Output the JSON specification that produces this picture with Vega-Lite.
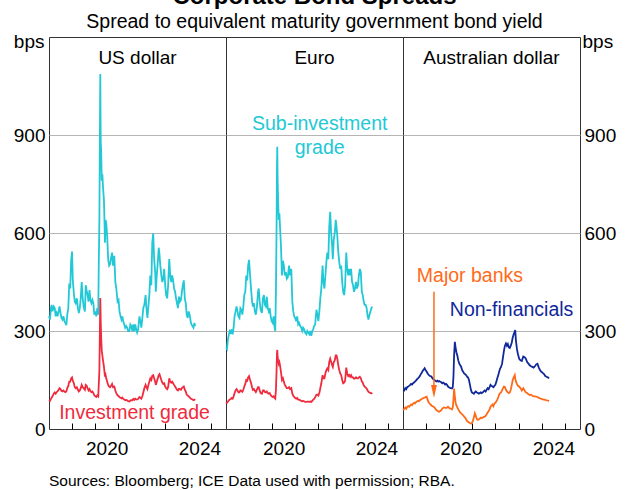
{
"$schema": "https://vega.github.io/schema/vega-lite/v6.json",
"autosize": {"type": "none"},
"padding": {"left": 49, "top": 37, "right": 579, "bottom": 453},
"bounds": "flush",
"spacing": 0,
"title": {"text": "Corporate Bond Spreads", "subtitle": "Spread to equivalent maturity government bond yield", "anchor": "middle", "frame": "group", "dx": 265.5, "fontSize": 24, "fontWeight": "bold", "subtitleFontSize": 19.5, "font": "Liberation Sans", "subtitleFont": "Liberation Sans", "color": "#000", "subtitleColor": "#000", "offset": 0, "subtitlePadding": 4},
"config": {
  "font": "Liberation Sans",
  "view": {"stroke": "#333", "strokeWidth": 1},
  "axis": {"labelFont": "Liberation Sans", "labelFontSize": 19, "labelColor": "#000", "titleColor": "#000", "titleFont": "Liberation Sans", "gridColor": "#b5b5b5", "gridWidth": 1},
  "axisX": {"tickCount": {"interval": "year", "step": 1}, "labelExpr": "(year(datum.value) === 2020 || year(datum.value) === 2024) ? timeFormat(datum.value, '%Y') : ''", "labelOffset": 11.6, "offset": -6, "tickSize": 6, "tickColor": "#000", "tickWidth": 1, "domain": false, "labelPadding": 10, "grid": false, "labelFlush": false, "labelOverlap": false},
  "text": {"font": "Liberation Sans"}
},
"datasets": {
"us": [
{"date":"2018-01-05","sub":345,"ig":88},{"date":"2018-01-20","sub":335,"ig":86},{"date":"2018-02-05","sub":370,"ig":92},{"date":"2018-02-15","sub":380,"ig":96},{"date":"2018-03-01","sub":360,"ig":100},{"date":"2018-03-20","sub":375,"ig":108},{"date":"2018-04-05","sub":370,"ig":112},{"date":"2018-04-20","sub":345,"ig":108},{"date":"2018-05-05","sub":355,"ig":113},{"date":"2018-05-20","sub":345,"ig":115},{"date":"2018-06-05","sub":360,"ig":120},{"date":"2018-06-20","sub":375,"ig":125},{"date":"2018-07-05","sub":355,"ig":122},{"date":"2018-07-20","sub":340,"ig":117},{"date":"2018-08-05","sub":335,"ig":115},{"date":"2018-08-20","sub":345,"ig":118},{"date":"2018-09-05","sub":330,"ig":115},{"date":"2018-09-20","sub":325,"ig":113},{"date":"2018-10-05","sub":318,"ig":115},{"date":"2018-10-20","sub":350,"ig":125},{"date":"2018-11-05","sub":370,"ig":132},{"date":"2018-11-20","sub":445,"ig":145},{"date":"2018-12-05","sub":430,"ig":145},{"date":"2018-12-20","sub":515,"ig":155},{"date":"2019-01-03","sub":543,"ig":158},{"date":"2019-01-15","sub":455,"ig":148},{"date":"2019-02-01","sub":415,"ig":140},{"date":"2019-02-15","sub":390,"ig":128},{"date":"2019-03-01","sub":385,"ig":125},{"date":"2019-03-20","sub":400,"ig":128},{"date":"2019-04-05","sub":370,"ig":120},{"date":"2019-04-20","sub":355,"ig":115},{"date":"2019-05-05","sub":370,"ig":118},{"date":"2019-05-20","sub":400,"ig":125},{"date":"2019-06-04","sub":450,"ig":135},{"date":"2019-06-20","sub":400,"ig":128},{"date":"2019-07-05","sub":375,"ig":125},{"date":"2019-07-25","sub":360,"ig":120},{"date":"2019-08-07","sub":440,"ig":135},{"date":"2019-08-20","sub":425,"ig":133},{"date":"2019-09-05","sub":410,"ig":125},{"date":"2019-09-20","sub":390,"ig":118},{"date":"2019-10-05","sub":425,"ig":122},{"date":"2019-10-20","sub":395,"ig":115},{"date":"2019-11-05","sub":385,"ig":113},{"date":"2019-11-20","sub":395,"ig":115},{"date":"2019-12-05","sub":385,"ig":110},{"date":"2019-12-20","sub":350,"ig":103},{"date":"2020-01-05","sub":360,"ig":100},{"date":"2020-01-20","sub":345,"ig":98},{"date":"2020-02-05","sub":370,"ig":103},{"date":"2020-02-20","sub":350,"ig":100},{"date":"2020-02-28","sub":500,"ig":135},{"date":"2020-03-09","sub":640,"ig":180},{"date":"2020-03-16","sub":870,"ig":290},{"date":"2020-03-23","sub":1087,"ig":401},{"date":"2020-03-30","sub":880,"ig":330},{"date":"2020-04-06","sub":850,"ig":280},{"date":"2020-04-15","sub":760,"ig":240},{"date":"2020-04-25","sub":780,"ig":225},{"date":"2020-05-05","sub":740,"ig":210},{"date":"2020-05-20","sub":700,"ig":190},{"date":"2020-06-05","sub":570,"ig":160},{"date":"2020-06-15","sub":640,"ig":165},{"date":"2020-06-25","sub":630,"ig":155},{"date":"2020-07-10","sub":590,"ig":145},{"date":"2020-07-25","sub":520,"ig":135},{"date":"2020-08-10","sub":500,"ig":130},{"date":"2020-08-25","sub":505,"ig":128},{"date":"2020-09-10","sub":525,"ig":132},{"date":"2020-09-25","sub":540,"ig":138},{"date":"2020-10-10","sub":500,"ig":128},{"date":"2020-10-30","sub":530,"ig":130},{"date":"2020-11-15","sub":450,"ig":118},{"date":"2020-12-01","sub":430,"ig":110},{"date":"2020-12-20","sub":390,"ig":103},{"date":"2021-01-05","sub":395,"ig":101},{"date":"2021-01-20","sub":360,"ig":97},{"date":"2021-02-05","sub":345,"ig":96},{"date":"2021-02-20","sub":335,"ig":94},{"date":"2021-03-05","sub":345,"ig":96},{"date":"2021-03-20","sub":330,"ig":92},{"date":"2021-04-05","sub":320,"ig":90},{"date":"2021-04-20","sub":310,"ig":88},{"date":"2021-05-05","sub":315,"ig":89},{"date":"2021-05-20","sub":310,"ig":88},{"date":"2021-06-05","sub":300,"ig":85},{"date":"2021-06-25","sub":300,"ig":84},{"date":"2021-07-10","sub":320,"ig":87},{"date":"2021-07-25","sub":315,"ig":88},{"date":"2021-08-10","sub":300,"ig":88},{"date":"2021-08-25","sub":320,"ig":92},{"date":"2021-09-10","sub":300,"ig":89},{"date":"2021-09-25","sub":320,"ig":93},{"date":"2021-10-10","sub":305,"ig":91},{"date":"2021-10-25","sub":295,"ig":90},{"date":"2021-11-10","sub":305,"ig":92},{"date":"2021-11-30","sub":345,"ig":98},{"date":"2021-12-15","sub":330,"ig":96},{"date":"2021-12-30","sub":310,"ig":93},{"date":"2022-01-15","sub":340,"ig":100},{"date":"2022-01-30","sub":370,"ig":112},{"date":"2022-02-15","sub":380,"ig":125},{"date":"2022-03-07","sub":410,"ig":135},{"date":"2022-03-20","sub":370,"ig":128},{"date":"2022-04-05","sub":340,"ig":122},{"date":"2022-04-20","sub":375,"ig":135},{"date":"2022-05-05","sub":410,"ig":145},{"date":"2022-05-20","sub":470,"ig":155},{"date":"2022-06-05","sub":440,"ig":150},{"date":"2022-06-20","sub":570,"ig":163},{"date":"2022-07-05","sub":599,"ig":165},{"date":"2022-07-20","sub":520,"ig":155},{"date":"2022-08-05","sub":480,"ig":145},{"date":"2022-08-15","sub":420,"ig":135},{"date":"2022-08-30","sub":470,"ig":145},{"date":"2022-09-15","sub":510,"ig":155},{"date":"2022-09-30","sub":555,"ig":165},{"date":"2022-10-12","sub":535,"ig":168},{"date":"2022-10-25","sub":500,"ig":160},{"date":"2022-11-10","sub":470,"ig":150},{"date":"2022-11-25","sub":450,"ig":142},{"date":"2022-12-10","sub":460,"ig":138},{"date":"2022-12-25","sub":490,"ig":140},{"date":"2023-01-10","sub":440,"ig":130},{"date":"2023-01-25","sub":410,"ig":125},{"date":"2023-02-10","sub":400,"ig":122},{"date":"2023-02-25","sub":440,"ig":128},{"date":"2023-03-15","sub":520,"ig":155},{"date":"2023-03-30","sub":470,"ig":145},{"date":"2023-04-15","sub":450,"ig":142},{"date":"2023-04-30","sub":470,"ig":145},{"date":"2023-05-15","sub":455,"ig":140},{"date":"2023-05-30","sub":430,"ig":135},{"date":"2023-06-15","sub":420,"ig":130},{"date":"2023-06-30","sub":400,"ig":125},{"date":"2023-07-15","sub":385,"ig":120},{"date":"2023-07-30","sub":370,"ig":118},{"date":"2023-08-15","sub":405,"ig":123},{"date":"2023-08-30","sub":390,"ig":122},{"date":"2023-09-15","sub":395,"ig":120},{"date":"2023-09-30","sub":420,"ig":125},{"date":"2023-10-15","sub":440,"ig":128},{"date":"2023-10-30","sub":455,"ig":130},{"date":"2023-11-15","sub":400,"ig":120},{"date":"2023-11-30","sub":385,"ig":115},{"date":"2023-12-15","sub":350,"ig":105},{"date":"2023-12-30","sub":340,"ig":103},{"date":"2024-01-15","sub":360,"ig":100},{"date":"2024-01-30","sub":350,"ig":97},{"date":"2024-02-15","sub":330,"ig":93},{"date":"2024-02-28","sub":320,"ig":92},{"date":"2024-03-15","sub":315,"ig":90},{"date":"2024-03-30","sub":310,"ig":88},{"date":"2024-04-15","sub":325,"ig":90},{"date":"2024-04-25","sub":315,"ig":88}
],
"euro": [
{"date":"2018-01-05","sub":250,"ig":82},{"date":"2018-01-20","sub":245,"ig":80},{"date":"2018-02-05","sub":275,"ig":84},{"date":"2018-02-20","sub":290,"ig":88},{"date":"2018-03-05","sub":300,"ig":90},{"date":"2018-03-20","sub":295,"ig":92},{"date":"2018-04-05","sub":305,"ig":95},{"date":"2018-04-20","sub":290,"ig":93},{"date":"2018-05-05","sub":310,"ig":100},{"date":"2018-05-20","sub":345,"ig":110},{"date":"2018-06-05","sub":360,"ig":118},{"date":"2018-06-20","sub":375,"ig":122},{"date":"2018-07-05","sub":360,"ig":118},{"date":"2018-07-20","sub":345,"ig":112},{"date":"2018-08-05","sub":340,"ig":112},{"date":"2018-08-20","sub":370,"ig":118},{"date":"2018-09-05","sub":365,"ig":117},{"date":"2018-09-20","sub":350,"ig":114},{"date":"2018-10-05","sub":375,"ig":120},{"date":"2018-10-20","sub":410,"ig":130},{"date":"2018-11-05","sub":420,"ig":138},{"date":"2018-11-20","sub":470,"ig":150},{"date":"2018-12-05","sub":455,"ig":148},{"date":"2018-12-20","sub":500,"ig":158},{"date":"2019-01-03","sub":518,"ig":162},{"date":"2019-01-20","sub":470,"ig":150},{"date":"2019-02-05","sub":425,"ig":140},{"date":"2019-02-20","sub":390,"ig":128},{"date":"2019-03-05","sub":375,"ig":120},{"date":"2019-03-20","sub":385,"ig":122},{"date":"2019-04-05","sub":360,"ig":117},{"date":"2019-04-20","sub":350,"ig":113},{"date":"2019-05-05","sub":370,"ig":120},{"date":"2019-05-25","sub":420,"ig":128},{"date":"2019-06-05","sub":430,"ig":128},{"date":"2019-06-20","sub":390,"ig":118},{"date":"2019-07-05","sub":365,"ig":110},{"date":"2019-07-25","sub":355,"ig":108},{"date":"2019-08-10","sub":400,"ig":118},{"date":"2019-08-25","sub":410,"ig":118},{"date":"2019-09-10","sub":380,"ig":113},{"date":"2019-09-25","sub":375,"ig":112},{"date":"2019-10-10","sub":405,"ig":115},{"date":"2019-10-25","sub":370,"ig":110},{"date":"2019-11-10","sub":360,"ig":108},{"date":"2019-11-25","sub":370,"ig":110},{"date":"2019-12-10","sub":345,"ig":104},{"date":"2019-12-25","sub":330,"ig":100},{"date":"2020-01-10","sub":325,"ig":98},{"date":"2020-01-25","sub":345,"ig":100},{"date":"2020-02-10","sub":310,"ig":95},{"date":"2020-02-20","sub":300,"ig":93},{"date":"2020-03-02","sub":420,"ig":120},{"date":"2020-03-12","sub":620,"ig":180},{"date":"2020-03-18","sub":800,"ig":230},{"date":"2020-03-23","sub":864,"ig":242},{"date":"2020-03-27","sub":780,"ig":225},{"date":"2020-04-05","sub":700,"ig":210},{"date":"2020-04-15","sub":640,"ig":200},{"date":"2020-04-25","sub":660,"ig":205},{"date":"2020-05-05","sub":620,"ig":195},{"date":"2020-05-20","sub":560,"ig":175},{"date":"2020-06-05","sub":470,"ig":150},{"date":"2020-06-20","sub":515,"ig":155},{"date":"2020-07-05","sub":500,"ig":145},{"date":"2020-07-20","sub":470,"ig":135},{"date":"2020-08-05","sub":480,"ig":130},{"date":"2020-08-20","sub":460,"ig":125},{"date":"2020-09-05","sub":465,"ig":125},{"date":"2020-09-25","sub":500,"ig":128},{"date":"2020-10-10","sub":470,"ig":122},{"date":"2020-10-30","sub":490,"ig":125},{"date":"2020-11-15","sub":390,"ig":108},{"date":"2020-11-30","sub":360,"ig":102},{"date":"2020-12-15","sub":345,"ig":98},{"date":"2020-12-30","sub":340,"ig":95},{"date":"2021-01-15","sub":330,"ig":93},{"date":"2021-01-30","sub":345,"ig":95},{"date":"2021-02-15","sub":320,"ig":90},{"date":"2021-03-01","sub":325,"ig":90},{"date":"2021-03-20","sub":315,"ig":88},{"date":"2021-04-05","sub":310,"ig":86},{"date":"2021-04-20","sub":300,"ig":85},{"date":"2021-05-05","sub":310,"ig":86},{"date":"2021-05-20","sub":305,"ig":85},{"date":"2021-06-05","sub":295,"ig":83},{"date":"2021-06-25","sub":290,"ig":83},{"date":"2021-07-10","sub":300,"ig":84},{"date":"2021-07-25","sub":295,"ig":84},{"date":"2021-08-10","sub":290,"ig":83},{"date":"2021-08-25","sub":300,"ig":84},{"date":"2021-09-10","sub":285,"ig":83},{"date":"2021-09-25","sub":300,"ig":86},{"date":"2021-10-10","sub":305,"ig":90},{"date":"2021-10-25","sub":315,"ig":92},{"date":"2021-11-10","sub":320,"ig":97},{"date":"2021-11-30","sub":365,"ig":105},{"date":"2021-12-15","sub":350,"ig":105},{"date":"2021-12-30","sub":330,"ig":102},{"date":"2022-01-15","sub":360,"ig":110},{"date":"2022-01-30","sub":400,"ig":125},{"date":"2022-02-15","sub":430,"ig":140},{"date":"2022-03-07","sub":500,"ig":165},{"date":"2022-03-20","sub":450,"ig":155},{"date":"2022-04-05","sub":430,"ig":155},{"date":"2022-04-20","sub":470,"ig":170},{"date":"2022-05-05","sub":510,"ig":180},{"date":"2022-05-20","sub":540,"ig":185},{"date":"2022-06-05","sub":520,"ig":180},{"date":"2022-06-20","sub":620,"ig":205},{"date":"2022-07-05","sub":665,"ig":215},{"date":"2022-07-20","sub":600,"ig":205},{"date":"2022-08-05","sub":560,"ig":195},{"date":"2022-08-15","sub":520,"ig":190},{"date":"2022-08-30","sub":580,"ig":205},{"date":"2022-09-15","sub":600,"ig":210},{"date":"2022-09-30","sub":640,"ig":225},{"date":"2022-10-12","sub":620,"ig":225},{"date":"2022-10-25","sub":590,"ig":215},{"date":"2022-11-10","sub":540,"ig":195},{"date":"2022-11-25","sub":510,"ig":180},{"date":"2022-12-10","sub":490,"ig":170},{"date":"2022-12-25","sub":500,"ig":165},{"date":"2023-01-10","sub":450,"ig":150},{"date":"2023-01-25","sub":420,"ig":140},{"date":"2023-02-10","sub":410,"ig":142},{"date":"2023-02-25","sub":440,"ig":148},{"date":"2023-03-15","sub":540,"ig":188},{"date":"2023-03-30","sub":490,"ig":170},{"date":"2023-04-15","sub":470,"ig":162},{"date":"2023-04-30","sub":490,"ig":165},{"date":"2023-05-15","sub":470,"ig":160},{"date":"2023-05-30","sub":490,"ig":165},{"date":"2023-06-15","sub":450,"ig":158},{"date":"2023-06-30","sub":440,"ig":158},{"date":"2023-07-15","sub":420,"ig":154},{"date":"2023-07-30","sub":430,"ig":155},{"date":"2023-08-15","sub":450,"ig":158},{"date":"2023-08-30","sub":430,"ig":155},{"date":"2023-09-15","sub":440,"ig":155},{"date":"2023-09-30","sub":470,"ig":158},{"date":"2023-10-15","sub":490,"ig":160},{"date":"2023-10-30","sub":480,"ig":156},{"date":"2023-11-15","sub":420,"ig":146},{"date":"2023-11-30","sub":410,"ig":142},{"date":"2023-12-15","sub":390,"ig":134},{"date":"2023-12-30","sub":380,"ig":130},{"date":"2024-01-15","sub":380,"ig":127},{"date":"2024-01-30","sub":370,"ig":124},{"date":"2024-02-15","sub":345,"ig":118},{"date":"2024-02-28","sub":335,"ig":114},{"date":"2024-03-15","sub":350,"ig":112},{"date":"2024-03-30","sub":360,"ig":110},{"date":"2024-04-15","sub":370,"ig":110},{"date":"2024-04-25","sub":375,"ig":107}
],
"aud": [
{"date":"2018-01-08","nf":120,"mb":58},{"date":"2018-01-25","nf":118,"mb":62},{"date":"2018-02-10","nf":125,"mb":66},{"date":"2018-02-25","nf":122,"mb":62},{"date":"2018-03-12","nf":128,"mb":68},{"date":"2018-03-28","nf":130,"mb":70},{"date":"2018-04-12","nf":132,"mb":68},{"date":"2018-04-28","nf":135,"mb":72},{"date":"2018-05-12","nf":138,"mb":75},{"date":"2018-05-28","nf":136,"mb":73},{"date":"2018-06-12","nf":140,"mb":78},{"date":"2018-06-28","nf":142,"mb":80},{"date":"2018-07-12","nf":145,"mb":78},{"date":"2018-07-28","nf":148,"mb":82},{"date":"2018-08-12","nf":152,"mb":84},{"date":"2018-08-28","nf":155,"mb":86},{"date":"2018-09-12","nf":158,"mb":85},{"date":"2018-09-28","nf":162,"mb":88},{"date":"2018-10-12","nf":168,"mb":90},{"date":"2018-10-28","nf":172,"mb":92},{"date":"2018-11-12","nf":178,"mb":94},{"date":"2018-11-28","nf":182,"mb":95},{"date":"2018-12-12","nf":186,"mb":96},{"date":"2018-12-28","nf":180,"mb":98},{"date":"2019-01-12","nf":176,"mb":99},{"date":"2019-01-28","nf":170,"mb":90},{"date":"2019-02-12","nf":166,"mb":82},{"date":"2019-02-28","nf":163,"mb":78},{"date":"2019-03-15","nf":162,"mb":75},{"date":"2019-03-30","nf":160,"mb":72},{"date":"2019-04-15","nf":155,"mb":70},{"date":"2019-04-30","nf":152,"mb":68},{"date":"2019-05-15","nf":150,"mb":66},{"date":"2019-05-30","nf":148,"mb":62},{"date":"2019-06-15","nf":146,"mb":58},{"date":"2019-06-30","nf":148,"mb":56},{"date":"2019-07-15","nf":145,"mb":54},{"date":"2019-07-30","nf":147,"mb":53},{"date":"2019-08-15","nf":145,"mb":55},{"date":"2019-08-30","nf":143,"mb":58},{"date":"2019-09-15","nf":140,"mb":62},{"date":"2019-09-30","nf":142,"mb":65},{"date":"2019-10-15","nf":140,"mb":66},{"date":"2019-10-30","nf":136,"mb":65},{"date":"2019-11-15","nf":138,"mb":64},{"date":"2019-11-30","nf":135,"mb":66},{"date":"2019-12-15","nf":130,"mb":68},{"date":"2019-12-30","nf":128,"mb":65},{"date":"2020-01-15","nf":126,"mb":63},{"date":"2020-01-30","nf":125,"mb":62},{"date":"2020-02-15","nf":124,"mb":60},{"date":"2020-02-28","nf":128,"mb":66},{"date":"2020-03-10","nf":160,"mb":90},{"date":"2020-03-20","nf":225,"mb":124},{"date":"2020-04-01","nf":267,"mb":100},{"date":"2020-04-12","nf":250,"mb":82},{"date":"2020-04-25","nf":235,"mb":72},{"date":"2020-05-10","nf":225,"mb":66},{"date":"2020-05-25","nf":210,"mb":60},{"date":"2020-06-10","nf":200,"mb":55},{"date":"2020-06-25","nf":195,"mb":50},{"date":"2020-07-10","nf":190,"mb":48},{"date":"2020-07-25","nf":180,"mb":45},{"date":"2020-08-10","nf":175,"mb":42},{"date":"2020-08-25","nf":170,"mb":38},{"date":"2020-09-10","nf":168,"mb":35},{"date":"2020-09-25","nf":165,"mb":30},{"date":"2020-10-10","nf":160,"mb":25},{"date":"2020-10-25","nf":158,"mb":22},{"date":"2020-11-10","nf":150,"mb":20},{"date":"2020-11-25","nf":135,"mb":18},{"date":"2020-12-10","nf":120,"mb":16},{"date":"2020-12-25","nf":112,"mb":18},{"date":"2021-01-10","nf":110,"mb":25},{"date":"2021-01-25","nf":108,"mb":35},{"date":"2021-02-10","nf":112,"mb":48},{"date":"2021-02-25","nf":115,"mb":40},{"date":"2021-03-15","nf":112,"mb":30},{"date":"2021-03-30","nf":110,"mb":28},{"date":"2021-04-15","nf":108,"mb":30},{"date":"2021-04-30","nf":110,"mb":32},{"date":"2021-05-15","nf":112,"mb":35},{"date":"2021-05-30","nf":110,"mb":33},{"date":"2021-06-15","nf":112,"mb":35},{"date":"2021-06-30","nf":115,"mb":37},{"date":"2021-07-15","nf":118,"mb":38},{"date":"2021-07-30","nf":115,"mb":40},{"date":"2021-08-15","nf":120,"mb":45},{"date":"2021-08-30","nf":125,"mb":50},{"date":"2021-09-15","nf":122,"mb":55},{"date":"2021-09-30","nf":128,"mb":60},{"date":"2021-10-15","nf":135,"mb":68},{"date":"2021-10-30","nf":132,"mb":72},{"date":"2021-11-15","nf":130,"mb":75},{"date":"2021-11-30","nf":128,"mb":70},{"date":"2021-12-15","nf":132,"mb":78},{"date":"2021-12-30","nf":135,"mb":80},{"date":"2022-01-15","nf":145,"mb":85},{"date":"2022-01-30","nf":155,"mb":90},{"date":"2022-02-15","nf":165,"mb":98},{"date":"2022-02-28","nf":175,"mb":105},{"date":"2022-03-15","nf":185,"mb":110},{"date":"2022-03-30","nf":190,"mb":112},{"date":"2022-04-15","nf":200,"mb":118},{"date":"2022-04-30","nf":220,"mb":125},{"date":"2022-05-15","nf":240,"mb":130},{"date":"2022-05-30","nf":255,"mb":128},{"date":"2022-06-15","nf":262,"mb":120},{"date":"2022-06-30","nf":255,"mb":115},{"date":"2022-07-15","nf":260,"mb":112},{"date":"2022-07-30","nf":250,"mb":110},{"date":"2022-08-15","nf":248,"mb":112},{"date":"2022-08-30","nf":255,"mb":120},{"date":"2022-09-15","nf":265,"mb":135},{"date":"2022-09-30","nf":280,"mb":150},{"date":"2022-10-15","nf":290,"mb":158},{"date":"2022-11-01","nf":298,"mb":165},{"date":"2022-11-08","nf":303,"mb":155},{"date":"2022-11-20","nf":270,"mb":145},{"date":"2022-12-05","nf":245,"mb":138},{"date":"2022-12-20","nf":230,"mb":132},{"date":"2023-01-10","nf":215,"mb":130},{"date":"2023-01-30","nf":210,"mb":125},{"date":"2023-02-20","nf":208,"mb":118},{"date":"2023-03-15","nf":222,"mb":125},{"date":"2023-04-05","nf":220,"mb":118},{"date":"2023-04-25","nf":215,"mb":112},{"date":"2023-05-15","nf":205,"mb":110},{"date":"2023-06-05","nf":200,"mb":106},{"date":"2023-06-25","nf":195,"mb":104},{"date":"2023-07-15","nf":192,"mb":105},{"date":"2023-08-05","nf":190,"mb":102},{"date":"2023-08-25","nf":188,"mb":100},{"date":"2023-09-15","nf":192,"mb":100},{"date":"2023-10-05","nf":198,"mb":99},{"date":"2023-10-25","nf":200,"mb":98},{"date":"2023-11-15","nf":188,"mb":95},{"date":"2023-12-05","nf":180,"mb":94},{"date":"2023-12-25","nf":175,"mb":92},{"date":"2024-01-15","nf":172,"mb":91},{"date":"2024-02-05","nf":168,"mb":90},{"date":"2024-02-25","nf":162,"mb":89},{"date":"2024-03-15","nf":160,"mb":88},{"date":"2024-04-05","nf":158,"mb":87},{"date":"2024-04-25","nf":155,"mb":86}
]
},
"hconcat": [
{
  "width": 177, "height": 392,
  "title": {"text": "Sources: Bloomberg; ICE Data used with permission; RBA.", "orient": "bottom", "anchor": "start", "frame": "group", "fontSize": 15.5, "fontWeight": "normal", "font": "Liberation Sans", "color": "#000", "offset": 16},
  "layer": [
    {
      "data": {"name": "us"},
      "transform": [{"fold": ["sub", "ig"], "as": ["series", "value"]}],
      "mark": {"type": "line", "strokeWidth": 1.8},
      "encoding": {
        "x": {"field": "date", "type": "temporal", "title": null, "scale": {"domain": [{"year": 2018, "month": 1, "date": 5}, {"year": 2025, "month": 8, "date": 25}]}},
        "y": {"field": "value", "type": "quantitative", "scale": {"domain": [0, 1200]},
          "axis": {"orient": "left", "values": [0, 300, 600, 900], "domain": false, "ticks": false, "labelPadding": 4, "grid": true, "gridOpacity": {"condition": {"test": "datum.value === 0", "value": 0}, "value": 1}, "title": "bps", "titleAngle": 0, "titleAlign": "right", "titleBaseline": "alphabetic", "titleX": -5, "titleY": 10, "titleFontSize": 19, "titleFontWeight": "normal"}},
        "color": {"field": "series", "type": "nominal", "scale": {"domain": ["sub", "ig", "nf", "mb"], "range": ["#22c8d6", "#ef2b3d", "#10289a", "#ff6a19"]}, "legend": null}
      }
    },
    {"data": {"values": [{}]}, "mark": {"type": "text", "fontSize": 19, "color": "#000", "align": "center", "baseline": "middle"},
     "encoding": {"x": {"datum": {"year": 2021, "month": 10, "date": 30}}, "y": {"datum": 1135}, "text": {"value": "US dollar"}}},
    {"data": {"values": [{}]}, "mark": {"type": "text", "fontSize": 19.5, "color": "#ef2b3d", "align": "center", "baseline": "middle"},
     "encoding": {"x": {"datum": {"year": 2021, "month": 9, "date": 13}}, "y": {"datum": 50}, "text": {"value": "Investment grade"}}}
  ]
},
{
  "width": 177, "height": 392,
  "layer": [
    {
      "data": {"name": "euro"},
      "transform": [{"fold": ["sub", "ig"], "as": ["series", "value"]}],
      "mark": {"type": "line", "strokeWidth": 1.8},
      "encoding": {
        "x": {"field": "date", "type": "temporal", "title": null, "scale": {"domain": [{"year": 2018, "month": 1, "date": 5}, {"year": 2025, "month": 8, "date": 25}]}},
        "y": {"field": "value", "type": "quantitative", "scale": {"domain": [0, 1200]},
          "axis": {"values": [300, 600, 900], "domain": false, "ticks": false, "labels": false, "grid": true, "title": null}},
        "color": {"field": "series", "type": "nominal", "scale": {"domain": ["sub", "ig", "nf", "mb"], "range": ["#22c8d6", "#ef2b3d", "#10289a", "#ff6a19"]}, "legend": null}
      }
    },
    {"data": {"values": [{}]}, "mark": {"type": "text", "fontSize": 19, "color": "#000", "align": "center", "baseline": "middle"},
     "encoding": {"x": {"datum": {"year": 2021, "month": 10, "date": 30}}, "y": {"datum": 1135}, "text": {"value": "Euro"}}},
    {"data": {"values": [{}]}, "mark": {"type": "text", "fontSize": 19.5, "color": "#22c8d6", "align": "center", "baseline": "middle"},
     "encoding": {"x": {"datum": {"year": 2022, "month": 1, "date": 20}}, "y": {"datum": 934}, "text": {"value": "Sub-investment"}}},
    {"data": {"values": [{}]}, "mark": {"type": "text", "fontSize": 19.5, "color": "#22c8d6", "align": "center", "baseline": "middle"},
     "encoding": {"x": {"datum": {"year": 2022, "month": 1, "date": 20}}, "y": {"datum": 860}, "text": {"value": "grade"}}}
  ]
},
{
  "width": 177, "height": 392,
  "layer": [
    {
      "data": {"name": "aud"},
      "transform": [{"fold": ["nf", "mb"], "as": ["series", "value"]}],
      "mark": {"type": "line", "strokeWidth": 1.8},
      "encoding": {
        "x": {"field": "date", "type": "temporal", "title": null, "scale": {"domain": [{"year": 2018, "month": 1, "date": 5}, {"year": 2025, "month": 8, "date": 25}]}},
        "y": {"field": "value", "type": "quantitative", "scale": {"domain": [0, 1200]},
          "axis": {"orient": "right", "values": [0, 300, 600, 900], "domain": false, "ticks": false, "labelPadding": 4, "grid": true, "gridOpacity": {"condition": {"test": "datum.value === 0", "value": 0}, "value": 1}, "title": "bps", "titleAngle": 0, "titleAlign": "left", "titleBaseline": "alphabetic", "titleX": 2, "titleY": 10, "titleFontSize": 19, "titleFontWeight": "normal"}},
        "color": {"field": "series", "type": "nominal", "scale": {"domain": ["sub", "ig", "nf", "mb"], "range": ["#22c8d6", "#ef2b3d", "#10289a", "#ff6a19"]}, "legend": null}
      }
    },
    {"data": {"values": [{}]}, "mark": {"type": "text", "fontSize": 19, "color": "#000", "align": "center", "baseline": "middle"},
     "encoding": {"x": {"datum": {"year": 2021, "month": 10, "date": 30}}, "y": {"datum": 1135}, "text": {"value": "Australian dollar"}}},
    {"data": {"values": [{}]}, "mark": {"type": "text", "fontSize": 19.5, "color": "#ff6a19", "align": "center", "baseline": "middle"},
     "encoding": {"x": {"datum": {"year": 2020, "month": 11, "date": 25}}, "y": {"datum": 468}, "text": {"value": "Major banks"}}},
    {"data": {"values": [{}]}, "mark": {"type": "text", "fontSize": 19.5, "color": "#10289a", "align": "center", "baseline": "middle"},
     "encoding": {"x": {"datum": {"year": 2022, "month": 9, "date": 12}}, "y": {"datum": 364}, "text": {"value": "Non-financials"}}},
    {"data": {"values": [{}]}, "mark": {"type": "rule", "color": "#ff6a19", "strokeWidth": 1.5},
     "encoding": {"x": {"datum": {"year": 2019, "month": 5, "date": 8}}, "y": {"datum": 420}, "y2": {"datum": 118}}},
    {"data": {"values": [{}]}, "mark": {"type": "point", "shape": "M -0.45 -1 L 0.45 -1 L 0 1 Z", "filled": true, "color": "#ff6a19", "opacity": 1, "size": 169},
     "encoding": {"x": {"datum": {"year": 2019, "month": 5, "date": 8}}, "y": {"datum": 115}}}
  ]
}
]
}
